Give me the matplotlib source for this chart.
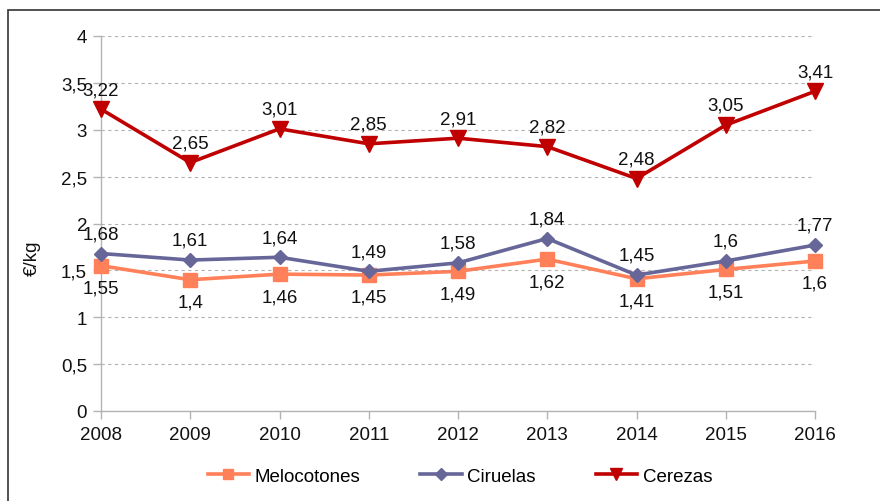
import matplotlib
matplotlib.use("Agg")
import matplotlib.pyplot as plt
from matplotlib.patches import Rectangle

plt.rcParams['font.family'] = ['Liberation Sans', 'DejaVu Sans']

years = [2008, 2009, 2010, 2011, 2012, 2013, 2014, 2015, 2016]
melocotones = [1.55, 1.40, 1.46, 1.45, 1.49, 1.62, 1.41, 1.51, 1.60]
ciruelas = [1.68, 1.61, 1.64, 1.49, 1.58, 1.84, 1.45, 1.60, 1.77]
cerezas = [3.22, 2.65, 3.01, 2.85, 2.91, 2.82, 2.48, 3.05, 3.41]
yticks = [0, 0.5, 1, 1.5, 2, 2.5, 3, 3.5, 4]

def fmt(v):
    s = ('%.2f' % v).rstrip('0').rstrip('.')
    return s.replace('.', ',')

FS = 13.5
fig = plt.figure(figsize=(8.8, 5.02), dpi=100)
ax = fig.add_axes([101/880, 1-412/502, (815-101)/880, (412-37)/502])

fig.patches.append(Rectangle((8/880, -0.1), 1.2, 1-11/502+0.1, transform=fig.transFigure,
                             fill=False, edgecolor='#333333', linewidth=1.2, zorder=0))

series = [
    ('Melocotones', melocotones, '#FF8059', 's', 10, 'below'),
    ('Ciruelas', ciruelas, '#666699', 'D', 7.5, 'above'),
    ('Cerezas', cerezas, '#C00000', 'v', 11, 'above'),
]
for name, vals, col, mk, ms, pos in series:
    ax.plot(years, vals, color=col, lw=2.6, marker=mk, markersize=ms, label=name,
            clip_on=False, zorder=3)
    for x, v in zip(years, vals):
        if pos == 'above':
            ax.annotate(fmt(v), (x, v), xytext=(0, 8), textcoords='offset points',
                        ha='center', va='bottom', fontsize=FS, color='#111111')
        else:
            ax.annotate(fmt(v), (x, v), xytext=(0, -10), textcoords='offset points',
                        ha='center', va='top', fontsize=FS, color='#111111')

ax.set_xlim(2008, 2016)
ax.set_ylim(0, 4)
ax.set_xticks(years)
ax.set_xticklabels([str(y) for y in years])
ax.set_yticks(yticks)
ax.set_yticklabels([fmt(t) for t in yticks])
ax.tick_params(axis='both', labelsize=FS, color='#b3b3b3', length=6, width=1, labelcolor='#111111')
ax.tick_params(axis='x', pad=5)
ax.tick_params(axis='y', pad=4)
ax.grid(axis='y', color='#b3b3b3', linestyle=(0, (3, 3)), linewidth=0.8)
ax.set_axisbelow(True)
for s in ['top', 'right']:
    ax.spines[s].set_visible(False)
for s in ['left', 'bottom']:
    ax.spines[s].set_color('#b3b3b3')
    ax.spines[s].set_linewidth(1)

fig.text(32/880, 1-258/502, '€/kg', rotation=90, ha='center', va='center', fontsize=FS, color='#111111')

leg = fig.legend(loc='center', bbox_to_anchor=(460/880, 1-477/502), ncol=3, frameon=False,
                 fontsize=FS, handlelength=2.2, columnspacing=3.2, handletextpad=0.3,
                 markerscale=0.75)

fig.savefig('out.png', dpi=100)
